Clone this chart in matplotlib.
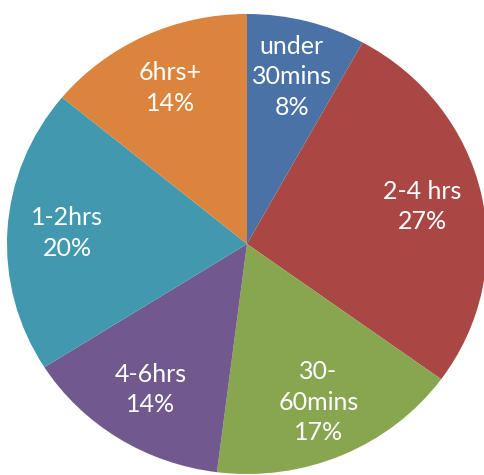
import matplotlib
matplotlib.use("Agg")
import matplotlib.pyplot as plt

categories = ["under\n30mins", "2-4 hrs", "30-\n60mins", "4-6hrs", "1-2hrs", "6hrs+"]
values = [8, 27, 17, 14, 20, 14]
colors = ["#4A72A6", "#A94745", "#88A54F", "#71598E", "#4298AF", "#DA843D"]

labels = [f"{c}\n{v}%" for c, v in zip(categories, values)]

fig = plt.figure(figsize=(4.85, 4.75), dpi=100)
ax = fig.add_axes([0, 0, 1, 1])
wedges, texts = ax.pie(values, labels=labels, colors=colors, startangle=90,
                       counterclock=False, labeldistance=0.75,
                       wedgeprops=dict(linewidth=0),
                       textprops=dict(color="white", fontsize=18, family="Lato",
                                      ha="center", va="center", linespacing=1.4))
for t in texts:
    t.set_horizontalalignment("center")
    t.set_verticalalignment("center")
ax.set_aspect("auto")
rx, ry = 240.0, 230.0
cx, cy = 247.0, 244.0
ax.set_xlim(-cx / rx, (485 - cx) / rx)
ax.set_ylim(-(475 - cy) / ry, cy / ry)
ax.axis("off")
fig.savefig("out.png", dpi=100)
